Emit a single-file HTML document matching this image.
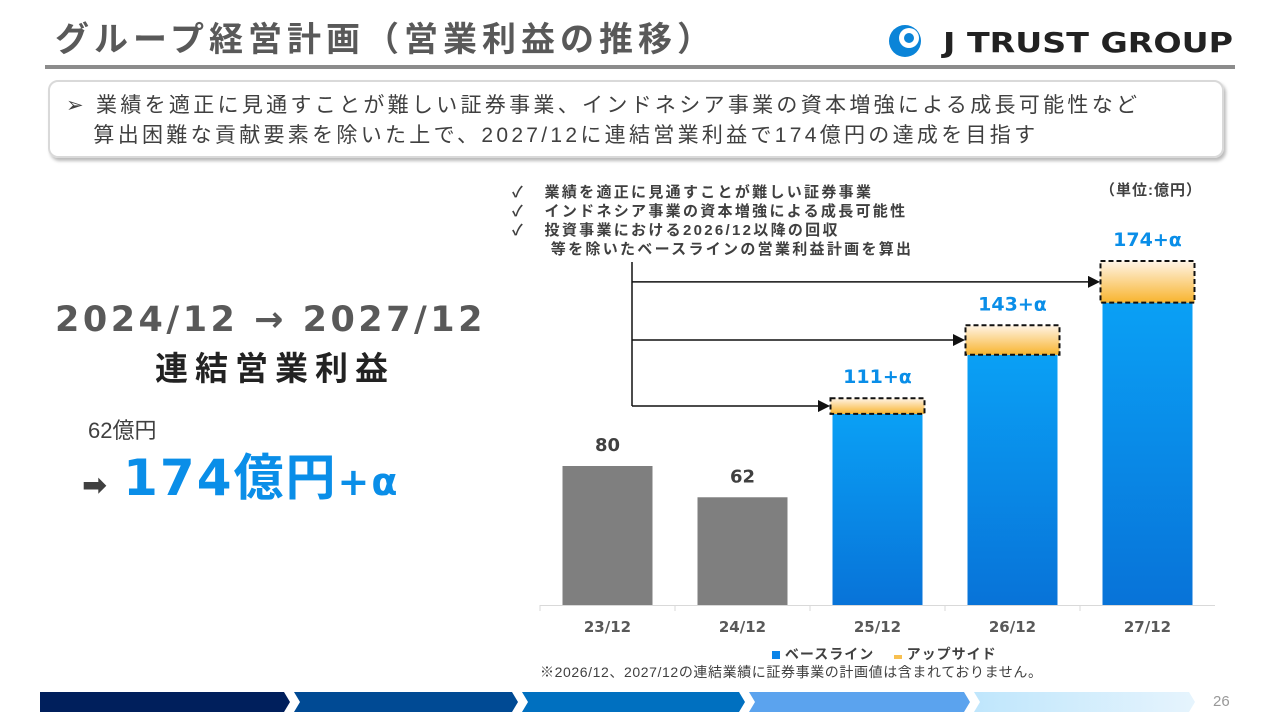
<!DOCTYPE html>
<html><head><meta charset="utf-8"><style>
body{margin:0;width:1280px;height:720px;background:#fff;position:relative;overflow:hidden;font-family:"Liberation Sans","Noto Sans CJK JP",sans-serif;}
.abs{position:absolute;white-space:nowrap;}
</style></head><body>
<div class="abs" style="left:55px;top:12px;font-size:34px;font-weight:bold;color:#595959;letter-spacing:5px;">グループ経営計画（営業利益の推移）</div>
<div class="abs" style="left:885px;top:22px;">
<svg width="380" height="38"><circle cx="20" cy="19" r="16" fill="#0a84d8"/><circle cx="24" cy="16" r="10" fill="#fff"/><circle cx="24" cy="16" r="5" fill="#0a84d8"/>
<text x="58" y="30" font-family="DejaVu Sans" font-weight="bold" font-size="28" fill="#222" textLength="290" lengthAdjust="spacingAndGlyphs">J TRUST GROUP</text></svg></div>
<div class="abs" style="left:45px;top:65px;width:1190px;height:4px;background:#8c8c8c;"></div>
<div class="abs" style="left:48px;top:80px;width:1176px;height:78px;border:2px solid #d9d9d9;border-radius:10px;box-shadow:2px 3px 3px #bbb;box-sizing:border-box;padding:9px 0 0 16px;font-size:21px;letter-spacing:3.3px;color:#404040;line-height:30px;">
➢ 業績を適正に見通すことが難しい証券事業、インドネシア事業の資本増強による成長可能性など<br>&nbsp;&nbsp;&nbsp;算出困難な貢献要素を除いた上で、2027/12に連結営業利益で174億円の達成を目指す</div>
<div class="abs" style="left:55px;top:300px;font-family:'DejaVu Sans','Noto Sans CJK JP',sans-serif;font-size:35px;font-weight:bold;color:#595959;letter-spacing:3.5px;">2024/12 → 2027/12</div>
<div class="abs" style="left:155px;top:342px;font-size:33px;font-weight:bold;color:#222;letter-spacing:7px;">連結営業利益</div>
<div class="abs" style="left:88px;top:413px;font-size:22px;color:#404040;">62億円</div>
<div class="abs" style="left:82px;top:438px;font-family:'DejaVu Sans','Noto Sans CJK JP',sans-serif;font-size:50px;font-weight:bold;color:#0a8ee8;letter-spacing:2px;"><span style="color:#404040;font-size:30px;margin-right:14px;">➡</span>174億円<span style="font-size:38px;">+α</span></div>
<div class="abs" style="left:1100px;top:179px;font-size:15px;font-weight:bold;color:#404040;letter-spacing:1px;">（単位:億円）</div>
<div class="abs" style="left:512px;top:183px;font-size:15px;font-weight:bold;color:#404040;line-height:19px;letter-spacing:2.3px;">✓&nbsp;&nbsp;&nbsp;業績を適正に見通すことが難しい証券事業<br>✓&nbsp;&nbsp;&nbsp;インドネシア事業の資本増強による成長可能性<br>✓&nbsp;&nbsp;&nbsp;投資事業における2026/12以降の回収<br>&nbsp;&nbsp;&nbsp;&nbsp;&nbsp;&nbsp;等を除いたベースラインの営業利益計画を算出</div>
<svg class="abs" style="left:0;top:0" width="1280" height="720" id="chart">
<defs>
<linearGradient id="gb" x1="0" y1="0" x2="0" y2="1"><stop offset="0" stop-color="#0aa0f5"/><stop offset="1" stop-color="#0873d8"/></linearGradient>
<linearGradient id="go" x1="0" y1="0" x2="0" y2="1"><stop offset="0" stop-color="#fff4e6"/><stop offset="1" stop-color="#f8b42e"/></linearGradient>
<linearGradient id="gl" x1="0" y1="0" x2="1" y2="0"><stop offset="0" stop-color="#bfe6fc"/><stop offset="1" stop-color="#e6f4fd"/></linearGradient>
<marker id="ah" markerWidth="8" markerHeight="8" refX="7" refY="4" orient="auto"><path d="M0,0 L8,4 L0,8z" fill="#111"/></marker>
</defs>
<g id="g"></g>
</svg>
<div class="abs" style="left:772px;top:644px;font-size:14px;font-weight:bold;color:#404040;letter-spacing:1px;"><span><span style="display:inline-block;width:8px;height:8px;background:#0a84e8;"></span> ベースライン</span>&nbsp;&nbsp;&nbsp;&nbsp;<span><span style="display:inline-block;width:8px;height:4px;background:#f8c050;"></span> アップサイド</span></div>
<div class="abs" style="left:540px;top:662px;font-size:14px;color:#404040;letter-spacing:0.6px;">※2026/12、2027/12の連結業績に証券事業の計画値は含まれておりません。</div>
<div class="abs" style="left:1213px;top:693px;font-size:15px;color:#999;">26</div>
<script>
const categories=["23/12","24/12","25/12","26/12","27/12"];
const baseline=[80,62,110,144,174];
const upside=[0,0,9,17,24];
const labels=["80","62","111+α","143+α","174+α"];
const NS="http://www.w3.org/2000/svg",g=document.getElementById('g');
const y0=605,k=1.7375,x0=540,step=135,bw=90;
const y=v=>y0-v*k, xc=i=>x0+step*(i+0.5);
function el(t,a){const e=document.createElementNS(NS,t);for(const n in a)e.setAttribute(n,a[n]);g.appendChild(e);return e;}
const ax=el('line',{x1:x0,y1:y0+0.5,x2:x0+step*5,y2:y0+0.5,stroke:'#d9d9d9'});

categories.forEach((c,i)=>{
 const t=el('line',{x1:x0+step*i,y1:y0,x2:x0+step*i,y2:y0+6,stroke:'#d9d9d9'});
 
 const b=el('rect',{x:xc(i)-bw/2,y:y(baseline[i]),width:bw,height:baseline[i]*k,fill:i<2?'#7f7f7f':'url(#gb)'});
 
 let top=y(baseline[i]);
 if(upside[i]>0){top=y(baseline[i]+upside[i]);
  const u=el('rect',{x:xc(i)-bw/2-2,y:top,width:bw+4,height:upside[i]*k,fill:'url(#go)',stroke:'#111','stroke-width':2,'stroke-dasharray':'5,3'});
  
  const a=el('path',{d:`M632,${top+upside[i]*k/2} H${xc(i)-bw/2-4}`,stroke:'#111','stroke-width':1.5,fill:'none','marker-end':'url(#ah)'});
  }
 const l=el('text',{x:xc(i),y:top-15,'text-anchor':'middle','font-size':i<2?18:19,'font-weight':'bold',fill:i<2?'#404040':'#0a8ee8','font-family':'DejaVu Sans, sans-serif'});
 l.textContent=labels[i];
 const cl=el('text',{x:xc(i),y:632,'text-anchor':'middle','font-size':15,'font-weight':'bold',fill:'#595959','font-family':'DejaVu Sans, sans-serif'});
 cl.textContent=c;
});
const v=el('line',{x1:632,y1:262,x2:632,y2:y(baseline[2]+upside[2]/2),stroke:'#111','stroke-width':1.5});

const segs=[[40,290,'#001f5c'],[290,518,'#004a94'],[518,745,'#0070c0'],[745,970,'#5ba3ee'],[970,1195,'url(#gl)']];
segs.forEach((s,i)=>{
 const p=el('path',{d:`M${s[0]+(i?4:0)},692 L${s[1]-6},692 L${s[1]},702 L${s[1]-6},712 L${s[0]+(i?4:0)},712 ${i?`L${s[0]+10},702 Z`:'Z'}`,fill:s[2]});
 
});
</script>
</body></html>
